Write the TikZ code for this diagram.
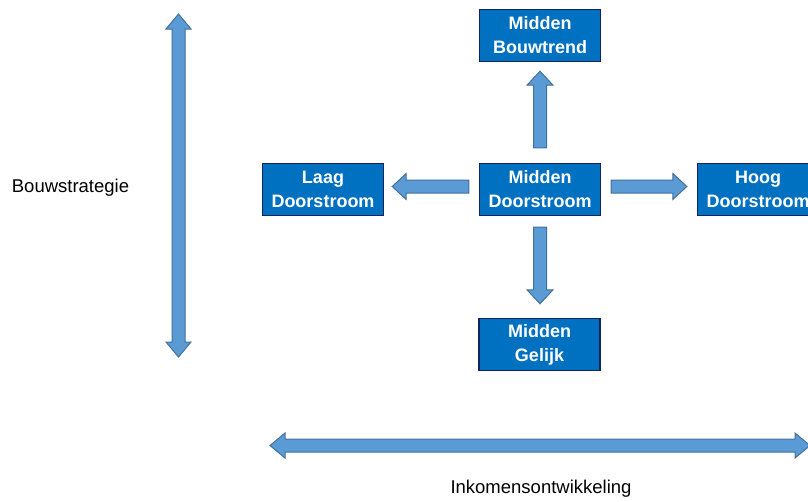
\documentclass[tikz,border=0pt]{standalone}
\usepackage{fontspec}
\setmainfont{Liberation Sans}
\usetikzlibrary{calc}
\definecolor{boxblue}{HTML}{0070C0}
\definecolor{boxnavy}{HTML}{13235E}
\definecolor{arrfill}{HTML}{5B9BD5}
\definecolor{arredge}{HTML}{41719C}
\tikzset{
  box/.style={rectangle, fill=boxblue, draw=boxnavy, line width=1.4pt,
    minimum width=121pt, minimum height=52pt, inner sep=0pt, text=white,
    align=center, font=\bfseries\fontsize{18}{24}\selectfont},
  lbl/.style={font=\fontsize{18.5}{22}\selectfont, inner sep=0pt},
  barrow/.style={fill=arrfill, draw=arredge, line width=1pt, line join=miter}
}
% start, end, half shaft, half head, head length
\newcommand{\blockarrow}[5]{%
  \path ($(#2)!#5!(#1)$) coordinate (hbE);
  \draw[barrow] ($(#1)!#3!90:(#2)$) -- ($(hbE)!#3!90:(#2)$) -- ($(hbE)!#4!90:(#2)$)
    -- (#2) -- ($(hbE)!#4!-90:(#2)$) -- ($(hbE)!#3!-90:(#2)$) -- ($(#1)!#3!-90:(#2)$) -- cycle;
}
\newcommand{\dblblockarrow}[5]{%
  \path ($(#2)!#5!(#1)$) coordinate (hbE) ($(#1)!#5!(#2)$) coordinate (hbS);
  \draw[barrow] (#1) -- ($(hbS)!#4!90:(#2)$) -- ($(hbS)!#3!90:(#2)$) -- ($(hbE)!#3!90:(#2)$)
    -- ($(hbE)!#4!90:(#2)$) -- (#2) -- ($(hbE)!#4!-90:(#2)$) -- ($(hbE)!#3!-90:(#2)$)
    -- ($(hbS)!#3!-90:(#2)$) -- ($(hbS)!#4!-90:(#2)$) -- cycle;
}
\begin{document}
\begin{tikzpicture}[x=1pt,y=-1pt]
\useasboundingbox (0,0) rectangle (808,501);

\node[box] (mb) at (540,35.5) {Midden\\Bouwtrend};
\node[box] (ld) at (323,189.5) {Laag\\Doorstroom};
\node[box] (md) at (540,189.5) {Midden\\Doorstroom};
\node[box] (hd) at (758,189.5) {Hoog\\Doorstroom};
\node[box] (mg) at (539.5,344.5) {Midden\\Gelijk};

\node[lbl] (bs) at (70.5,188) {Bouwstrategie};
\node[lbl] (ik) at (541,489) {Inkomensontwikkeling};

\coordinate (upS) at ($(md.north)+(0,-15)$);
\coordinate (upE) at ($(mb.south)+(0,9)$);
\coordinate (dnS) at ($(md.south)+(0,11)$);
\coordinate (dnE) at ($(mg.north)+(0.5,-14)$);
\coordinate (lfS) at ($(md.west)+(-10,-3)$);
\coordinate (lfE) at ($(ld.east)+(8,-3)$);
\coordinate (rtS) at ($(md.east)+(10,-3)$);
\coordinate (rtE) at ($(hd.west)+(-10,-3)$);

\blockarrow{upS}{upE}{6.5pt}{13pt}{14pt}
\blockarrow{dnS}{dnE}{6.5pt}{13pt}{14pt}
\blockarrow{lfS}{lfE}{6.5pt}{13pt}{14pt}
\blockarrow{rtS}{rtE}{6.5pt}{13pt}{14pt}

\coordinate (vT) at (178.5,14);
\coordinate (vB) at (178.5,357);
\coordinate (hL) at (270,445.5);
\coordinate (hR) at (810,445.5);
\dblblockarrow{vB}{vT}{6.5pt}{12.5pt}{15pt}
\dblblockarrow{hL}{hR}{6.5pt}{12.5pt}{15pt}
\end{tikzpicture}
\end{document}
